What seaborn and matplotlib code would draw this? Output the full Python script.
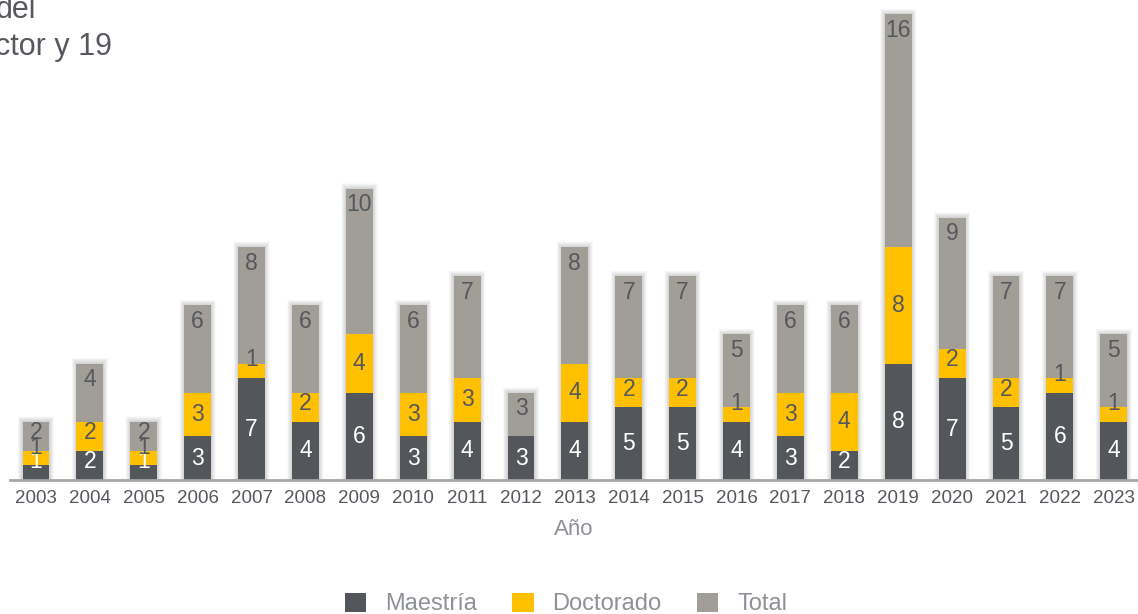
import numpy as np
import matplotlib
matplotlib.use('Agg')
import matplotlib.pyplot as plt
from matplotlib.patches import Patch
import seaborn as sns

# Data
years = [str(y) for y in range(2003, 2024)]
maestria = [1, 2, 1, 3, 7, 4, 6, 3, 4, 3, 4, 5, 5, 4, 3, 2, 8, 7, 5, 6, 4]
doctorado = [1, 2, 1, 3, 1, 2, 4, 3, 3, 0, 4, 2, 2, 1, 3, 4, 8, 2, 2, 1, 1]
total = [2, 4, 2, 6, 8, 6, 10, 6, 7, 3, 8, 7, 7, 5, 6, 6, 16, 9, 7, 7, 5]
series_names = ["Maestría", "Doctorado", "Total"]

c_maes = "#53565A"
c_doc = "#FFC000"
c_tot = "#A19E97"
c_dark = "#55585D"
c_light = "#8E9196"

sns.set_theme(style="white")
plt.rcParams['font.family'] = ['Liberation Sans', 'DejaVu Sans']

fig = plt.figure(figsize=(11.38, 6.14), dpi=100)
ax = fig.add_axes([10 / 1138, 134 / 614, 1128 / 1138, 480 / 614])

m = np.array(maestria)
d = np.array(doctorado)
t = np.array(total)
stack_md = m + d
stack_all = m + d + t

# soft shadow behind bars
for k in range(1, 12):
    sns.barplot(x=years, y=stack_all + 0.035 * k, order=years, color="black",
                width=0.5 + 0.016 * k, alpha=0.016, saturation=1, linewidth=0, ax=ax)

# stacked bars drawn as cumulative layers
sns.barplot(x=years, y=stack_all, order=years, color=c_tot, width=0.5, saturation=1,
            linewidth=0, ax=ax)
sns.barplot(x=years, y=stack_md, order=years, color=c_doc, width=0.5, saturation=1,
            linewidth=0, ax=ax)
sns.barplot(x=years, y=m, order=years, color=c_maes, width=0.5, saturation=1,
            linewidth=0, ax=ax)

# value labels
fs = 16.5
for i in range(len(years)):
    if m[i] > 0:
        y = max(m[i] / 2, 1.25)
        ax.text(i, y, str(m[i]), ha="center", va="center", color="white", fontsize=fs)
    if d[i] > 0:
        y = max(m[i] + d[i] / 2, m[i] + 1.25)
        ax.text(i, y, str(d[i]), ha="center", va="center", color=c_dark, fontsize=fs)
    if t[i] > 0:
        y = max(stack_all[i] - 1.1, stack_md[i] + 1.25)
        ax.text(i, y, str(t[i]), ha="center", va="center", color=c_dark, fontsize=fs)

ax.set_xlim(-0.482, 20.45)
ax.set_ylim(0, 32.97)
sns.despine(ax=ax, left=True)
ax.spines['bottom'].set_color("#A6A6A6")
ax.spines['bottom'].set_linewidth(2)
ax.set_yticks([])
ax.set_ylabel("")
ax.tick_params(axis='x', length=0, pad=7, labelsize=13.5, labelcolor=c_dark)
ax.set_xlabel("Año", fontsize=16, color=c_light, labelpad=9)

# title (cut off at the left edge in the reference)
fig.text(-4 / 1138, 1 - 18 / 614, "del", fontsize=22, color=c_dark, va="baseline", ha="left")
fig.text(-5 / 1138, 1 - 55 / 614, "ctor y 19", fontsize=22, color=c_dark, va="baseline", ha="left")

handles = [Patch(facecolor=c, edgecolor="none") for c in (c_maes, c_doc, c_tot)]
leg = fig.legend(handles=handles, labels=series_names, loc="center",
                 bbox_to_anchor=(566 / 1138, 1 - 604 / 614), ncol=3, frameon=False,
                 fontsize=17, handlelength=0.9, handleheight=0.9,
                 handletextpad=0.8, columnspacing=1.5)
for txt in leg.get_texts():
    txt.set_color(c_light)

fig.savefig("out.png", dpi=100)
